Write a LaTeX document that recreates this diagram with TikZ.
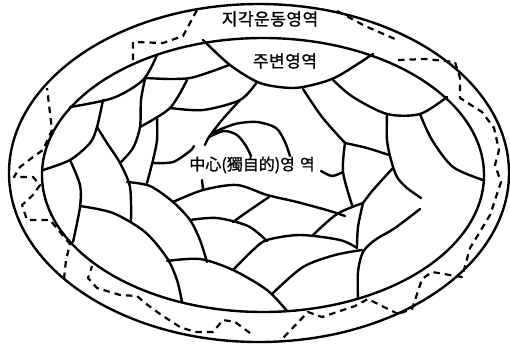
\documentclass[tikz,border=0pt]{standalone}
\usepackage{fontspec}
\newfontfamily\kr[FakeBold=1.2]{Noto Sans CJK KR}
\begin{document}
\begin{tikzpicture}[x=1pt,y=-1pt,
  rim/.style={line width=2.4pt},
  seam/.style={line width=2.4pt, line cap=round, line join=round},
  track/.style={line width=2.2pt, dash pattern=on 6.5pt off 5pt, line join=round},
  tag/.style={font=\kr\fontsize{17}{17}\selectfont, inner sep=1pt}]
\useasboundingbox (0,0) rectangle (510,343);

% outer rim and inner rim
\draw[rim] (259,173) ellipse [x radius=250pt, y radius=169pt];
\draw[rim] (263,175) ellipse [x radius=221pt, y radius=137pt];

% ---- scale pattern inside the inner rim ----
\tikzset{arc/.style={seam}}
% top cells
\draw[arc] plot[smooth] coordinates {(203,40) (230,65) (260,83) (293,88) (320,83) (340,75) (373,54)};
\draw[arc] plot[smooth] coordinates {(333,80) (353,97) (387,114) (420,114) (447,97)};
\draw[arc] plot[smooth] coordinates {(303,89) (322,117) (345,143)};
\draw[arc] plot[smooth] coordinates {(345,143) (343,172) (352,205)};
\draw[arc] plot[smooth] coordinates {(345,143) (367,148) (389,155)};
\draw[arc] plot[smooth] coordinates {(387,114) (387,140) (391,160) (397,177) (407,188) (421,198)};
\draw[arc] plot[smooth] coordinates {(393,168) (373,190) (363,203)};
\draw[arc] plot[smooth] coordinates {(420,114) (432,140) (453,167) (483,180)};

% upper left cells
\draw[arc] plot[smooth] coordinates {(70,107) (113,98) (143,80) (157,55)};
\draw[arc] plot[smooth] coordinates {(43,170) (70,160) (90,143) (97,127) (103,100)};
\draw[arc] plot[smooth] coordinates {(97,127) (107,143) (120,163) (130,187) (131,222)};
\draw[arc] plot[smooth] coordinates {(145,79) (141,100) (140,127) (133,148) (120,163)};
\draw[arc] plot[smooth] coordinates {(187,80) (170,108) (140,127)};
\draw[arc] plot[smooth] coordinates {(157,117) (157,140) (153,160) (147,183)};
\draw[arc] plot[smooth] coordinates {(145,78) (170,79) (190,78) (210,72) (229,65)};
\draw[arc] plot[smooth] coordinates {(170,108) (203,110) (240,100) (257,82)};
\draw[arc] plot[smooth] coordinates {(240,100) (222,120) (209,137) (205,145)};
\draw[arc] plot[smooth] coordinates {(153,163) (173,162) (190,151) (194,146)};
% small scales just above the centre
\draw[arc] plot[smooth] coordinates {(209,137) (224,131) (237,135) (246,146) (251,156)};
\draw[arc] plot[smooth] coordinates {(212,133) (235,124) (257,122) (276,128) (285,142) (290,156)};

% left and lower cells
\draw[arc] plot[smooth] coordinates {(70,160) (80,185) (80,207) (73,242)};
\draw[arc] plot[smooth] coordinates {(80,206) (113,213) (145,232) (167,258) (177,280) (182,302)};
\draw[arc] plot[smooth] coordinates {(127,182) (150,186) (173,202) (190,220) (200,240) (207,262)};
\draw[arc] plot[smooth] coordinates {(173,202) (203,190) (237,185) (267,195) (297,202) (330,211) (345,216)};
\draw[arc] plot[smooth] coordinates {(190,220) (217,218) (248,226) (267,241)};
\draw[arc] plot[smooth] coordinates {(233,222) (247,212) (269,197)};
\draw[arc] plot[smooth] coordinates {(167,261) (200,259) (233,270) (267,290) (287,311)};
\draw[arc] plot[smooth] coordinates {(233,270) (253,250) (267,240) (300,235) (340,240) (357,248)};
\draw[arc] plot[smooth] coordinates {(273,293) (303,267) (335,255) (362,250)};
\draw[arc] plot[smooth] coordinates {(313,235) (337,214) (363,203)};
\draw[arc] plot[smooth] coordinates {(363,203) (358,227) (357,248)};
\draw[arc] plot[smooth] coordinates {(358,299) (358,272) (363,252) (375,240) (395,228) (420,209)};
\draw[arc] (203,189) -- (202,180);
\draw[arc] plot[smooth] coordinates {(321,171) (332,176) (343,172)};

% ---- dashed track winding through the rim band ----
\draw[track] (337,11) -- (365,26) -- (395,39);
\draw[track] (398,60) -- (425,59) -- (455,62) -- (460,78) -- (460,98) -- (482,112)
  -- (494,128) -- (499,150) -- (495,165) -- (501,182) -- (490,215) -- (475,240) -- (470,248)
  -- (462,277) -- (432,272) -- (422,279) -- (412,309) -- (398,314);
\draw[track] (398,314) -- (368,299) -- (355,306) -- (322,317) -- (308,312) -- (283,338);
\draw[track] (250,333) -- (235,322) -- (223,320) -- (213,332) -- (195,332) -- (180,327)
  -- (160,314) -- (145,303) -- (137,296) -- (120,295) -- (97,288) -- (88,278) -- (92,266);
\draw[track] (64,279) -- (66,260) -- (70,244) -- (60,232) -- (50,220) -- (27,220) -- (22,205)
  -- (33,195) -- (40,185) -- (33,177) -- (14,177) -- (20,167) -- (33,157) -- (43,150)
  -- (52,130) -- (47,88);
\draw[track] (133,60) -- (133,42) -- (163,43) -- (183,36) -- (197,10);

% ---- labels ----
\node[tag] (band) at (270,19) {지\kern0.5pt 각\kern0.5pt 운\kern0.5pt 동\kern0.5pt 영\kern0.5pt 역};
\node[tag] (rim) at (285,61) {주\kern0.5pt 변\kern0.5pt 영\kern0.5pt 역};
\node[tag, font=\kr\fontsize{16}{16}\selectfont] (core) at (252,165) {中心(獨自的)영\kern5pt 역};
\end{tikzpicture}
\end{document}
